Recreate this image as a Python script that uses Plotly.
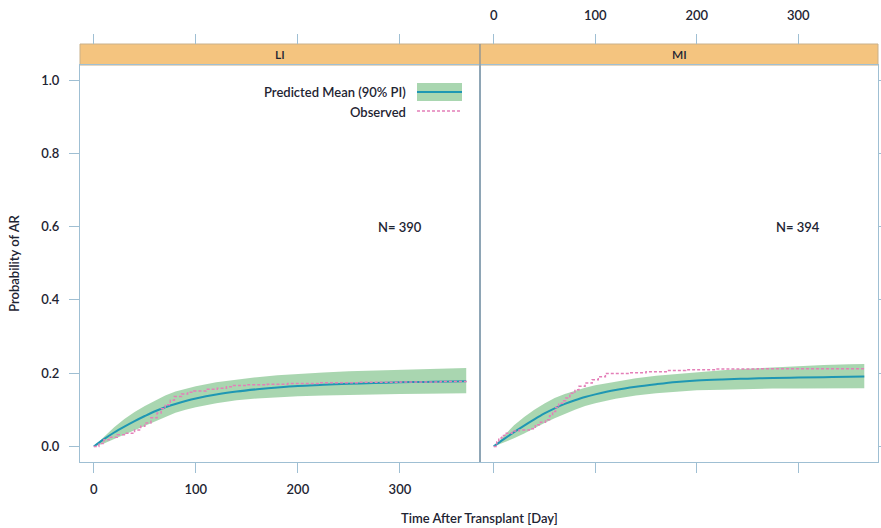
import plotly.graph_objects as go

# ---------------- data ----------------
panels = ["LI", "MI"]
n_labels = ["N= 390", "N= 394"]

t_grid = [0, 10, 20, 30, 40, 50, 60, 70, 80, 90, 100, 120, 140, 160, 180,
          200, 225, 250, 275, 300, 325, 350, 365]

li_mean = [0, 0.020, 0.038, 0.054, 0.069, 0.083, 0.096, 0.107, 0.116, 0.124,
           0.131, 0.142, 0.150, 0.156, 0.161, 0.165, 0.168, 0.171, 0.173,
           0.175, 0.176, 0.177, 0.178]
li_lo = [0, 0.008, 0.020, 0.032, 0.045, 0.058, 0.070, 0.082, 0.092, 0.100,
         0.107, 0.118, 0.126, 0.131, 0.135, 0.137, 0.139, 0.141, 0.142,
         0.143, 0.144, 0.145, 0.145]
li_hi = [0, 0.027, 0.052, 0.075, 0.094, 0.110, 0.125, 0.139, 0.150, 0.158,
         0.164, 0.175, 0.183, 0.189, 0.194, 0.198, 0.202, 0.205, 0.207,
         0.209, 0.211, 0.213, 0.214]

mi_mean = [0, 0.020, 0.039, 0.057, 0.074, 0.090, 0.104, 0.116, 0.126, 0.135,
           0.142, 0.154, 0.163, 0.170, 0.176, 0.180, 0.183, 0.185, 0.187,
           0.188, 0.189, 0.190, 0.191]
mi_lo = [0, 0.010, 0.022, 0.035, 0.050, 0.064, 0.077, 0.089, 0.100, 0.110,
         0.118, 0.130, 0.139, 0.145, 0.150, 0.153, 0.155, 0.157, 0.158,
         0.158, 0.159, 0.159, 0.159]
mi_hi = [0, 0.030, 0.058, 0.080, 0.100, 0.117, 0.132, 0.143, 0.152, 0.160,
         0.167, 0.177, 0.186, 0.193, 0.198, 0.202, 0.208, 0.212, 0.216,
         0.219, 0.222, 0.224, 0.225]

li_obs_t = [0, 5, 10, 15, 23, 30, 40, 46, 50, 56, 62, 66, 70, 75, 79, 86, 92,
            98, 110, 121, 130, 137, 150, 170, 190, 220, 260, 300, 340, 365]
li_obs = [0, 0.008, 0.018, 0.025, 0.032, 0.036, 0.045, 0.055, 0.064, 0.078,
          0.091, 0.103, 0.114, 0.126, 0.136, 0.143, 0.148, 0.151, 0.156,
          0.159, 0.163, 0.166, 0.168, 0.170, 0.172, 0.174, 0.175, 0.176,
          0.177, 0.178]

mi_obs_t = [0, 3, 5, 8, 11, 18, 25, 35, 41, 46, 51, 55, 58, 61, 64, 68, 71,
            75, 80, 84, 90, 97, 103, 110, 123, 135, 150, 170, 189, 220, 260,
            300, 365]
mi_obs = [0, 0.012, 0.023, 0.030, 0.036, 0.042, 0.045, 0.048, 0.059, 0.066,
          0.073, 0.084, 0.095, 0.106, 0.118, 0.125, 0.132, 0.145, 0.155,
          0.164, 0.173, 0.182, 0.190, 0.199, 0.199, 0.201, 0.204, 0.207,
          0.209, 0.211, 0.212, 0.212, 0.213]

x_ticks = [0, 100, 200, 300]
y_ticks = [0.0, 0.2, 0.4, 0.6, 0.8, 1.0]
y_tick_text = ["0.0", "0.2", "0.4", "0.6", "0.8", "1.0"]

# ---------------- style ----------------
BAND = "rgba(140,200,150,0.75)"
MEAN = "#1f97b3"
OBS = "#e47fb8"
AXC = "#9fbfd3"
STRIP = "#f4c47f"
TXT = "#1e2432"
FONT = "Lato, 'Open Sans', sans-serif"
FW = 600
FS = 13

W, H = 881, 528
ML, MR, MT, MB = 80, 3, 44, 66
PW = W - ML - MR          # 798
PH = H - MT - MB          # 418
split = 400 / PW
ytop = 397 / PH
XR = [-13.5, 378.5]
YR = [-0.0425, 1.041]


def f(size=FS):
    return dict(family=FONT, size=size, color=TXT, weight=FW)


fig = go.Figure()

series = [
    (li_lo, li_hi, li_mean, li_obs_t, li_obs, "x", "y"),
    (mi_lo, mi_hi, mi_mean, mi_obs_t, mi_obs, "x2", "y2"),
]
for i, (lo, hi, mean, ot, ov, xa, ya) in enumerate(series):
    fig.add_trace(go.Scatter(x=t_grid, y=lo, mode="lines", line=dict(width=0),
                             hoverinfo="skip", showlegend=False,
                             xaxis=xa, yaxis=ya))
    fig.add_trace(go.Scatter(x=t_grid, y=hi, mode="lines", line=dict(width=0),
                             fill="tonexty", fillcolor=BAND,
                             name="90% PI", showlegend=False,
                             xaxis=xa, yaxis=ya))
    fig.add_trace(go.Scatter(x=t_grid, y=mean, mode="lines",
                             line=dict(color=MEAN, width=2, shape="spline"),
                             name="Predicted Mean (90% PI)", showlegend=False,
                             xaxis=xa, yaxis=ya))
    fig.add_trace(go.Scatter(x=ot, y=ov, mode="lines",
                             line=dict(color=OBS, width=1.5, dash="3px,2px",
                                       shape="hv"),
                             name="Observed", showlegend=False,
                             xaxis=xa, yaxis=ya))

# dummy traces for top axes
fig.add_trace(go.Scatter(x=[], y=[], xaxis="x3", yaxis="y", showlegend=False))
fig.add_trace(go.Scatter(x=[], y=[], xaxis="x4", yaxis="y2", showlegend=False))

common_x = dict(range=XR, tickvals=x_ticks, ticks="outside", ticklen=10,
                tickcolor=AXC, showgrid=False, zeroline=False,
                tickfont=f(), automargin=False)

fig.update_layout(
    width=W, height=H,
    margin=dict(l=ML, r=MR, t=MT, b=MB),
    paper_bgcolor="white", plot_bgcolor="white",
    showlegend=False,
    font=f(),
    xaxis=dict(domain=[0, split], anchor="y", showline=True, linecolor=AXC,
               mirror=True, showticklabels=True, ticklabelstandoff=5,
               **common_x),
    xaxis2=dict(domain=[split, 1], anchor="y2", showline=True, linecolor=AXC,
                mirror=True, showticklabels=False, **common_x),
    xaxis3=dict(overlaying="x", anchor="free", position=1, side="top",
                showline=False, showticklabels=False, **common_x),
    xaxis4=dict(overlaying="x2", anchor="free", position=1, side="top",
                showline=False, showticklabels=True, ticklabelstandoff=9,
                **common_x),
    yaxis=dict(domain=[0, ytop], anchor="x", range=YR, tickvals=y_ticks,
               ticktext=y_tick_text, ticks="outside", ticklen=10,
               tickcolor=AXC, showline=True, linecolor=AXC, mirror=True,
               showgrid=False, zeroline=False, tickfont=f(),
               ticklabelstandoff=7, automargin=False,
               title=dict(text="Probability of AR", standoff=18, font=f())),
    yaxis2=dict(domain=[0, ytop], anchor="x2", range=YR, tickvals=y_ticks,
                side="right", ticks="outside", ticklen=10, tickcolor=AXC,
                showline=True, linecolor=AXC, mirror=True, automargin=False,
                showticklabels=False, showgrid=False, zeroline=False),
)

shapes = []
annotations = []
for i, (lab, nlab) in enumerate(zip(panels, n_labels)):
    x0, x1 = (0, split) if i == 0 else (split, 1)
    shapes.append(dict(type="rect", xref="paper", yref="paper",
                       x0=x0, x1=x1, y0=ytop, y1=1,
                       fillcolor=STRIP, line=dict(color="#c9b08a", width=1),
                       layer="below"))
    annotations.append(dict(xref="paper", yref="paper", x=(x0 + x1) / 2,
                            y=(ytop + 1) / 2, text=lab, showarrow=False,
                            font=f(12), xanchor="center", yanchor="middle"))
    xa = "x" if i == 0 else "x2"
    ya = "y" if i == 0 else "y2"
    annotations.append(dict(xref=xa, yref=ya, x=300, y=0.6, text=nlab,
                            showarrow=False, font=f(),
                            xanchor="center", yanchor="middle"))

# panel separator
shapes.append(dict(type="line", xref="paper", yref="paper", x0=split, x1=split,
                   y0=0, y1=1, line=dict(color="#7f8c98", width=1)))

# legend (text left, key right) inside left panel
shapes.append(dict(type="rect", xref="x domain", yref="y domain",
                   x0=0.8425, x1=0.955, y0=0.9093, y1=0.9547,
                   fillcolor=BAND, line=dict(width=0)))
shapes.append(dict(type="line", xref="x domain", yref="y domain",
                   x0=0.8425, x1=0.955, y0=0.932, y1=0.932,
                   line=dict(color=MEAN, width=2)))
shapes.append(dict(type="line", xref="x domain", yref="y domain",
                   x0=0.8425, x1=0.955, y0=0.884, y1=0.884,
                   line=dict(color=OBS, width=1.5, dash="3px,2px")))
annotations.append(dict(xref="x domain", yref="y domain", x=0.82, y=0.932,
                        text="Predicted Mean (90% PI)", showarrow=False,
                        xanchor="right", yanchor="middle", font=f()))
annotations.append(dict(xref="x domain", yref="y domain", x=0.82, y=0.882,
                        text="Observed", showarrow=False,
                        xanchor="right", yanchor="middle", font=f()))

# x-axis title spanning both panels
annotations.append(dict(xref="paper", yref="paper", x=0.5, y=-56 / PH,
                        text="Time After Transplant [Day]", showarrow=False,
                        xanchor="center", yanchor="middle", font=f()))

fig.update_layout(shapes=shapes, annotations=annotations)
fig.write_html("out.html", config={"displayModeBar": False},
               post_script="document.body.style.margin='0';"
                           "document.body.style.padding='0';")
